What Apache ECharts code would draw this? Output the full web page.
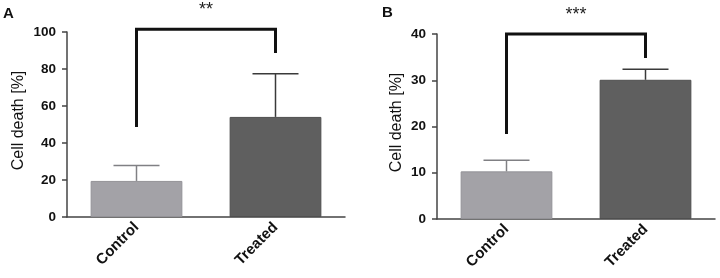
<!DOCTYPE html>
<html>
<head>
<meta charset="utf-8">
<script src="https://cdn.jsdelivr.net/npm/echarts@6/dist/echarts.min.js"></script>
<style>
html, body { margin: 0; padding: 0; background: #fff; }
#chart { width: 720px; height: 278px; }
</style>
</head>
<body>
<div id="chart"></div>
<script>
// data
var categories = ['Control', 'Treated'];
var meanA = [19.5, 54.1];
var sdA = [8.4, 23.4];
var meanB = [10.3, 30.1];
var sdB = [2.4, 2.3];
var ticksA = [0, 20, 40, 60, 80, 100];
var ticksB = [0, 10, 20, 30, 40];
// significance brackets: [left end, top, right end] in data units
var bracketA = [48.6, 101.5, 88.6];
var bracketB = [18.4, 40, 34.8];
var starsA = '**';
var starsB = '***';

var barColors = ['#a3a2a7', '#5f5f5f'];
var barBorders = ['#949398', '#4f4f4f'];
var errColors = ['#808084', '#3a3a3a'];

var font = 'Arial';

var chart = echarts.init(document.getElementById('chart'));

function errData(mean, sd) {
    return mean.map(function (m, i) { return [i, m, m + sd[i]]; });
}

function errRender(params, api) {
    var i = api.value(0);
    var base = api.coord([i, api.value(1)]);
    var top = api.coord([i, api.value(2)]);
    var half = 23;
    var st = { stroke: errColors[i], lineWidth: 1.5 };
    return {
        type: 'group',
        children: [
            { type: 'line', shape: { x1: base[0], y1: base[1], x2: top[0], y2: top[1] }, style: st },
            { type: 'line', shape: { x1: top[0] - half, y1: top[1], x2: top[0] + half, y2: top[1] }, style: st }
        ]
    };
}

function bracketRender(stars) {
    return function (params, api) {
        var p1 = api.coord([0, api.value(0)]);
        var p2 = api.coord([0, api.value(1)]);
        var p3 = api.coord([1, api.value(1)]);
        var p4 = api.coord([1, api.value(2)]);
        return {
            type: 'group',
            children: [
                { type: 'polyline', shape: { points: [p1, p2, p3, p4] },
                  style: { stroke: '#111', lineWidth: 3, fill: null } },
                { type: 'text', x: (p2[0] + p3[0]) / 2, y: p2[1] - 19,
                  style: { text: stars, fontSize: 18, fontFamily: font, fill: '#222',
                           align: 'center', verticalAlign: 'middle' } }
            ]
        };
    };
}

function xAxis(idx) {
    return {
        type: 'category', gridIndex: idx, data: categories,
        axisLine: { lineStyle: { color: '#444', width: 1.5 } },
        axisTick: { alignWithLabel: true, length: 5, lineStyle: { color: '#444', width: 1.5 } },
        axisLabel: { rotate: 45, margin: 8, fontSize: 15, fontWeight: 'bold', color: '#111', fontFamily: font }
    };
}

function yAxis(idx, ticks, gap) {
    return {
        type: 'value', gridIndex: idx,
        min: ticks[0], max: ticks[ticks.length - 1], interval: ticks[1] - ticks[0],
        name: 'Cell death [%]', nameLocation: 'middle', nameGap: gap,
        nameTextStyle: { fontSize: 16, color: '#111', fontFamily: font, padding: [0, 0, 0, 8] },
        axisLine: { show: true, lineStyle: { color: '#444', width: 1.5 } },
        axisTick: { show: true, length: 5, lineStyle: { color: '#444', width: 1.5 } },
        axisLabel: { margin: 11, fontSize: 13.5, fontWeight: 'bold', color: '#111', fontFamily: font },
        splitLine: { show: false }
    };
}

function barData(mean) {
    return mean.map(function (v, i) {
        return { value: v, itemStyle: { color: barColors[i], borderColor: barBorders[i], borderWidth: 1 } };
    });
}

var option = {
    animation: false,
    grid: [
        { left: 67, top: 32, width: 278, height: 185 },
        { left: 437, top: 34, width: 278, height: 185 }
    ],
    xAxis: [xAxis(0), xAxis(1)],
    yAxis: [yAxis(0, ticksA, 40), yAxis(1, ticksB, 32)],
    graphic: [
        { type: 'text', left: 3, top: 6, style: { text: 'A', fontSize: 15, fontWeight: 'bold', fontFamily: font, fill: '#111' } },
        { type: 'text', left: 382, top: 5, style: { text: 'B', fontSize: 15, fontWeight: 'bold', fontFamily: font, fill: '#111' } }
    ],
    series: [
        { type: 'bar', xAxisIndex: 0, yAxisIndex: 0, barWidth: '66%', data: barData(meanA) },
        { type: 'custom', xAxisIndex: 0, yAxisIndex: 0, renderItem: errRender, data: errData(meanA, sdA), z: 3 },
        { type: 'custom', xAxisIndex: 0, yAxisIndex: 0, renderItem: bracketRender(starsA), data: [bracketA], clip: false },
        { type: 'bar', xAxisIndex: 1, yAxisIndex: 1, barWidth: '66%', data: barData(meanB) },
        { type: 'custom', xAxisIndex: 1, yAxisIndex: 1, renderItem: errRender, data: errData(meanB, sdB), z: 3 },
        { type: 'custom', xAxisIndex: 1, yAxisIndex: 1, renderItem: bracketRender(starsB), data: [bracketB], clip: false }
    ]
};

chart.setOption(option);
</script>
</body>
</html>
